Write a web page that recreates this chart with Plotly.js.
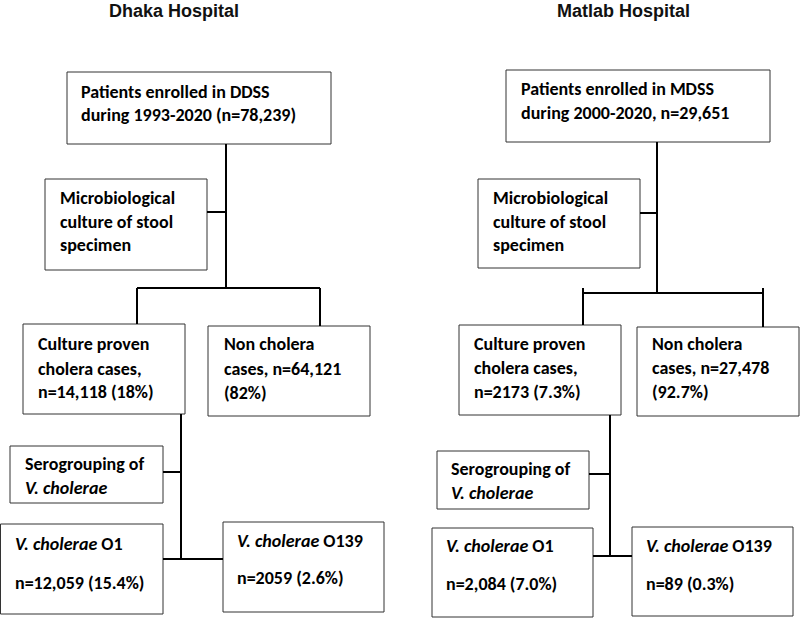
<!DOCTYPE html>
<html>
<head>
<meta charset="utf-8">
<script src="https://cdn.plot.ly/plotly-3.0.1.min.js"></script>
<style>html,body{margin:0;padding:0;background:#fff;}#chart{width:800px;height:618px;}</style>
</head>
<body>
<div id="chart"></div>
<script>
// ---- Data (texts of the flow chart) ----
const hospitals = ["Dhaka Hospital", "Matlab Hospital"];
const enrolledText = [
  ["Patients enrolled in DDSS", "during 1993-2020 (n=78,239)"],
  ["Patients enrolled in MDSS", "during 2000-2020, n=29,651"]
];
const cultureText = ["Microbiological", "culture of stool", "specimen"];
const choleraText = [
  ["Culture proven", "cholera cases,", "n=14,118 (18%)"],
  ["Culture proven", "cholera cases,", "n=2173 (7.3%)"]
];
const nonCholeraText = [
  ["Non cholera", "cases, n=64,121", "(82%)"],
  ["Non cholera", "cases, n=27,478", "(92.7%)"]
];
const seroText = ["Serogrouping of", "<i>V. cholerae</i>"];
const o1Text = [
  ["<i>V. cholerae</i> O1", "n=12,059 (15.4%)"],
  ["<i>V. cholerae</i> O1", "n=2,084 (7.0%)"]
];
const o139Text = [
  ["<i>V. cholerae</i> O139", "n=2059 (2.6%)"],
  ["<i>V. cholerae</i> O139", "n=89 (0.3%)"]
];

// ---- Layout geometry (pixel coordinates on an 800x618 canvas) ----
const geom = [
  {
    title: [174, 11],
    boxes: {
      enrolled: {box: [67, 72, 331, 144], tx: 79, ty: [92, 115]},
      culture: {box: [45, 179, 207, 270], tx: 58, ty: [198, 222, 245]},
      cholera: {box: [23, 324, 185, 414], tx: 36, ty: [344, 369, 392]},
      non: {box: [208, 326, 370, 416], tx: 222, ty: [344, 369, 393]},
      sero: {box: [10, 446, 163, 503], tx: 23, ty: [464, 488]},
      o1: {box: [0.5, 524, 163, 614], tx: 13, ty: [544, 583]},
      o139: {box: [223, 522, 384, 612], tx: 235, ty: [541, 578]}
    },
    lines: [[226,144,226,288],[207,212,226,212],[137,288,320,288],[137,288,137,324],[320,288,320,326],
            [181,414,181,559],[163,472,181,472],[163,559,223,559]]
  },
  {
    title: [623, 11],
    boxes: {
      enrolled: {box: [506, 70, 770, 142], tx: 519, ty: [89, 113]},
      culture: {box: [478, 179, 640, 268], tx: 491, ty: [198, 222, 245]},
      cholera: {box: [459, 325, 621, 415], tx: 472, ty: [344, 368, 392]},
      non: {box: [637, 327, 799, 416], tx: 650, ty: [344, 368, 392]},
      sero: {box: [437, 451, 589, 509], tx: 449, ty: [469, 493]},
      o1: {box: [432, 528, 593, 617], tx: 444, ty: [546, 584]},
      o139: {box: [632, 527, 793, 616], tx: 644, ty: [546, 584]}
    },
    lines: [[657,142,657,293],[640,213,657,213],[583,293,763,293],[583,288,583,325],[763,288,763,327],
            [610,415,610,556],[589,474,610,474],[593,556,632,556]]
  }
];

const FONT = "Carlito, Lato, 'Open Sans', sans-serif";
const shapes = [];
const annotations = [];

hospitals.forEach((h, i) => {
  const g = geom[i];
  annotations.push({
    x: g.title[0], y: g.title[1], xref: 'x', yref: 'y', text: '<b>' + h + '</b>',
    showarrow: false, xanchor: 'center', yanchor: 'middle',
    font: {family: "'Liberation Sans', Arial, sans-serif", size: 18, color: '#111'}
  });
  const texts = {
    enrolled: enrolledText[i], culture: cultureText, cholera: choleraText[i],
    non: nonCholeraText[i], sero: seroText, o1: o1Text[i], o139: o139Text[i]
  };
  Object.keys(g.boxes).forEach(k => {
    const b = g.boxes[k];
    shapes.push({type: 'rect', xref: 'x', yref: 'y', x0: b.box[0], y0: b.box[1], x1: b.box[2], y1: b.box[3],
      line: {color: '#333', width: 1}, fillcolor: 'rgba(0,0,0,0)'});
    texts[k].forEach((t, j) => {
      annotations.push({
        x: b.tx, y: b.ty[j], xref: 'x', yref: 'y', text: '<b>' + t + '</b>',
        showarrow: false, xanchor: 'left', yanchor: 'middle',
        font: {family: FONT, size: 18, color: '#000'}
      });
    });
  });
  g.lines.forEach(l => {
    shapes.push({type: 'line', xref: 'x', yref: 'y', x0: l[0], y0: l[1], x1: l[2], y1: l[3],
      line: {color: '#000', width: 2}});
  });
});

const layout = {
  width: 800, height: 618,
  margin: {l: 0, r: 0, t: 0, b: 0},
  paper_bgcolor: '#fff', plot_bgcolor: '#fff',
  xaxis: {range: [0, 800], visible: false, fixedrange: true},
  yaxis: {range: [618, 0], visible: false, fixedrange: true},
  shapes: shapes,
  annotations: annotations,
  showlegend: false
};

Plotly.newPlot('chart', [], layout, {staticPlot: true, displayModeBar: false});
</script>
</body>
</html>
